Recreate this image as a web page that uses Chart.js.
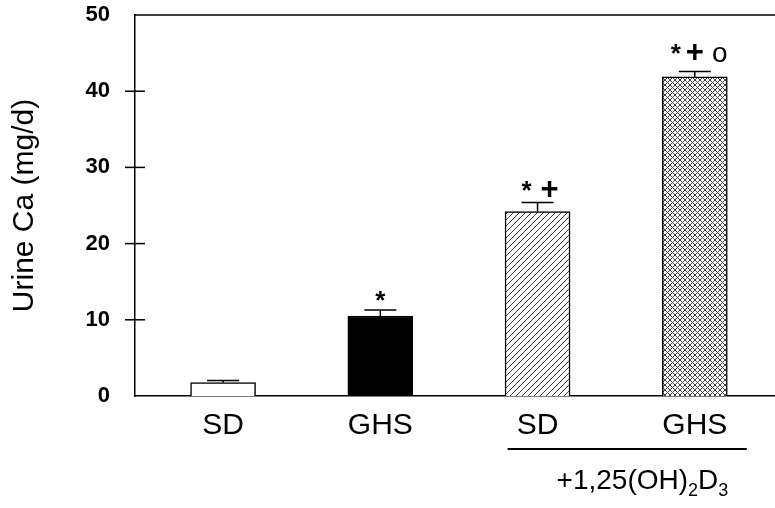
<!DOCTYPE html>
<html lang="en">
<head>
<meta charset="UTF-8">
<script src="https://cdn.jsdelivr.net/npm/chart.js"></script>
<title>Urine Ca</title>
<style>
    body { margin: 0; background: #fff; }
    .wrap { width: 775px; height: 508px; }
</style>
</head>
<body>
<div class="wrap"><canvas id="urineChart"></canvas></div>
<script>
    // values
    const groups = ['SD', 'GHS', 'SD', 'GHS'];
    const positions = [1, 2, 3, 4];
    const urineCa = [1.75, 10.5, 24.2, 41.9];
    const sem = [0.3, 0.8, 1.2, 0.7];
    const marks = [[], ['*'], ['*', '+'], ['*', '+', 'o']];
    const yTicks = [0, 10, 20, 30, 40, 50];

    const FONT = '"Liberation Sans", Arial, sans-serif';

    // where each significance mark sits relative to its bar (dx per glyph, dy of baseline)
    const markDx = [[], [0], [-11, 12], [-19, 0, 25]];
    const markDy = [0, -1, -3, -9];
    const markFont = { '*': 'bold 26px ', '+': 'bold 31px ', 'o': '28px ' };

    function makePattern(cross) {
        const s = cross ? 5 : 6;
        const c = document.createElement('canvas');
        c.width = s; c.height = s;
        const g = c.getContext('2d');
        g.fillStyle = '#fff';
        g.fillRect(0, 0, s, s);
        g.strokeStyle = '#444';
        g.lineWidth = 1;
        g.beginPath();
        g.moveTo(-1, s + 1); g.lineTo(s + 1, -1);
        g.moveTo(-1, 1); g.lineTo(1, -1);
        g.moveTo(s - 1, s + 1); g.lineTo(s + 1, s - 1);
        if (cross) {
            g.moveTo(-1, -1); g.lineTo(s + 1, s + 1);
            g.moveTo(s - 1, -1); g.lineTo(s + 1, 1);
            g.moveTo(-1, s - 1); g.lineTo(1, s + 1);
        }
        g.stroke();
        return g.createPattern(c, 'repeat');
    }

    const fills = ['#fff', '#000', makePattern(false), makePattern(true)];

    const extras = {
        id: 'extras',
        afterDatasetsDraw(chart) {
            const ctx = chart.ctx;
            const y = chart.scales.y;
            const area = chart.chartArea;
            const bars = chart.getDatasetMeta(0).data;
            ctx.save();
            ctx.strokeStyle = '#000';
            ctx.fillStyle = '#000';
            ctx.lineWidth = 1.5;

            // top frame line
            ctx.beginPath();
            ctx.moveTo(area.left, area.top);
            ctx.lineTo(area.right, area.top);
            ctx.stroke();

            // y tick marks crossing the axis
            yTicks.slice(1, -1).forEach(v => {
                const py = y.getPixelForValue(v);
                ctx.beginPath();
                ctx.moveTo(area.left - 10, py);
                ctx.lineTo(area.left + 10, py);
                ctx.stroke();
            });

            // error bars (upper only) and significance marks
            ctx.textAlign = 'center';
            ctx.textBaseline = 'alphabetic';
            bars.forEach((bar, i) => {
                const top = y.getPixelForValue(urineCa[i]);
                const err = y.getPixelForValue(urineCa[i] + sem[i]);
                ctx.beginPath();
                ctx.moveTo(bar.x, top);
                ctx.lineTo(bar.x, err);
                ctx.moveTo(bar.x - 16, err);
                ctx.lineTo(bar.x + 16, err);
                ctx.stroke();
                marks[i].forEach((m, j) => {
                    ctx.font = markFont[m] + FONT;
                    ctx.fillText(m, bar.x + markDx[i][j], err + markDy[i]);
                });
            });

            // bracket under the +1,25(OH)2D3 groups
            const x3 = bars[2].x, x4 = bars[3].x;
            const by = area.bottom + 53;
            ctx.lineWidth = 2;
            ctx.beginPath();
            ctx.moveTo(x3 - 30, by);
            ctx.lineTo(x4 + 52, by);
            ctx.stroke();

            // treatment label with subscripts
            const parts = [['+1,25(OH)', 28, 0], ['2', 18, 7], ['D', 28, 0], ['3', 18, 7]];
            ctx.textAlign = 'left';
            let tx = x3 + 19;
            const ty = by + 40;
            parts.forEach(([t, size, dy]) => {
                ctx.font = size + 'px ' + FONT;
                ctx.fillText(t, tx, ty + dy);
                tx += ctx.measureText(t).width;
            });
            ctx.restore();
        }
    };

    new Chart(document.getElementById('urineChart'), {
        type: 'bar',
        data: {
            datasets: [{
                data: positions.map((p, i) => ({ x: p, y: urineCa[i] })),
                backgroundColor: fills,
                borderColor: '#000',
                borderWidth: 1.5,
                barThickness: 65
            }]
        },
        options: {
            responsive: true,
            maintainAspectRatio: false,
            animation: false,
            devicePixelRatio: 1,
            layout: { padding: { top: 15, right: 0, left: 0, bottom: 0 } },
            plugins: { legend: { display: false }, tooltip: { enabled: false } },
            scales: {
                x: {
                    type: 'linear',
                    offset: false,
                    min: 0.44,
                    max: 4.51,
                    afterBuildTicks: s => { s.ticks = positions.map(v => ({ value: v })); },
                    afterFit: s => { s.height = 112; s.paddingLeft = 0; s.paddingRight = 0; },
                    grid: { display: false, drawTicks: false },
                    border: { display: true, color: '#000', width: 1.5 },
                    ticks: {
                        padding: 12,
                        color: '#000',
                        font: { family: FONT, size: 30 },
                        maxRotation: 0,
                        callback: v => groups[v - 1]
                    }
                },
                y: {
                    min: 0,
                    max: 50,
                    afterBuildTicks: s => { s.ticks = yTicks.map(v => ({ value: v })); },
                    afterFit: s => { s.width = 135; s.paddingTop = 0; s.paddingBottom = 0; },
                    grid: { display: false, drawTicks: false },
                    border: { display: true, color: '#000', width: 1.5 },
                    ticks: {
                        padding: 25,
                        color: '#000',
                        font: { family: FONT, size: 22, weight: 'bold' }
                    },
                    title: {
                        display: true,
                        text: 'Urine Ca (mg/d)',
                        color: '#000',
                        font: { family: FONT, size: 30 },
                        padding: { top: 7, bottom: 0 }
                    }
                }
            }
        },
        plugins: [extras]
    });
</script>
</body>
</html>
